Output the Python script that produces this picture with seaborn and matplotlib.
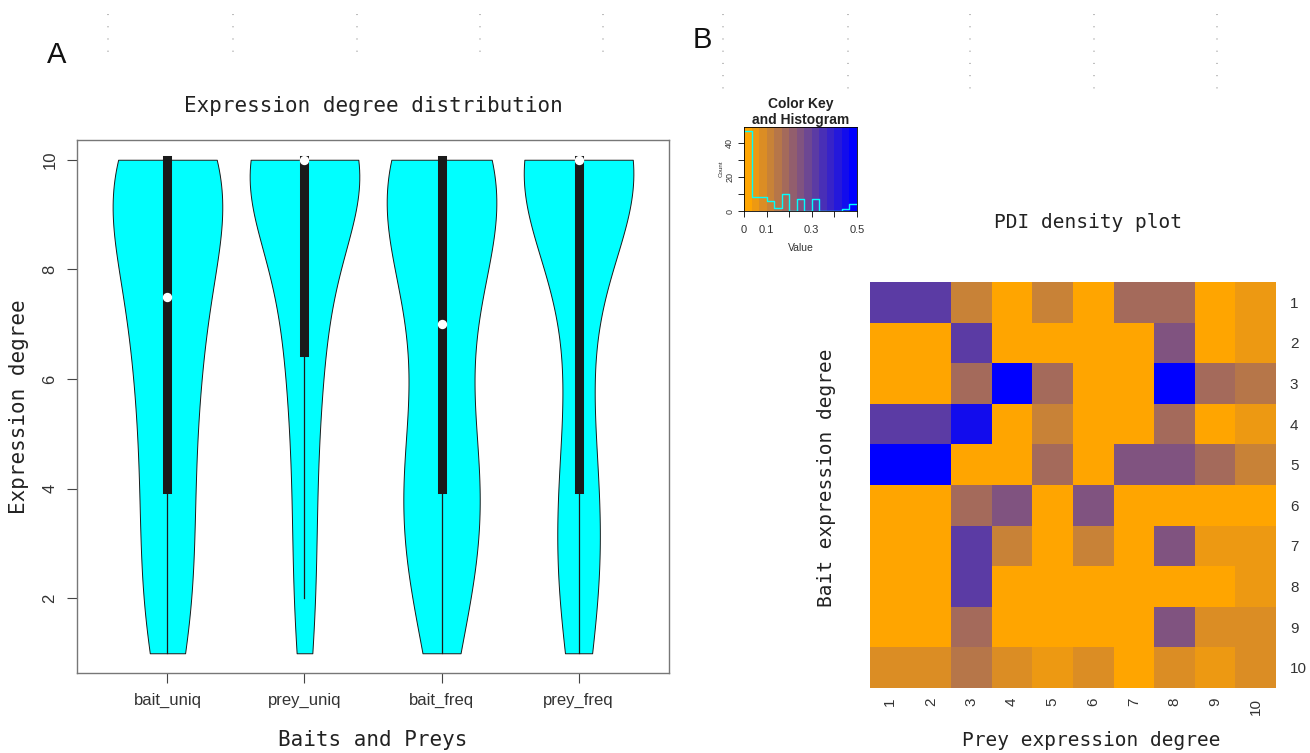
import numpy as np
import pandas as pd
import seaborn as sns
import matplotlib.pyplot as plt
from matplotlib.colors import LinearSegmentedColormap
from matplotlib.lines import Line2D

# %% data
# panel A: number of genes at each expression degree (1..10), per group
degrees = np.arange(1, 11)
groups = ["bait_uniq", "prey_uniq", "bait_freq", "prey_freq"]
bait_uniq_counts = [5, 5, 5, 5, 5, 6, 7, 8, 10, 20]
prey_uniq_counts = [2, 2, 2, 2, 2, 3, 4, 4, 4, 26]
bait_freq_counts = [3, 4, 6, 7, 5, 2, 4, 6, 8, 16]
prey_freq_counts = [3, 4, 5, 4, 3, 1, 2, 3, 5, 31]

# panel B: PDI density, rows = bait expression degree, cols = prey expression degree
bait_labels = [str(d) for d in degrees]
prey_labels = [str(d) for d in degrees]
pdi = [
    [0.32, 0.32, 0.12, 0.00, 0.12, 0.00, 0.18, 0.18, 0.00, 0.05],
    [0.00, 0.00, 0.32, 0.00, 0.00, 0.00, 0.00, 0.25, 0.00, 0.05],
    [0.00, 0.00, 0.18, 0.49, 0.18, 0.00, 0.00, 0.49, 0.18, 0.15],
    [0.32, 0.32, 0.45, 0.00, 0.12, 0.00, 0.00, 0.18, 0.00, 0.05],
    [0.49, 0.49, 0.00, 0.00, 0.18, 0.00, 0.25, 0.25, 0.18, 0.12],
    [0.00, 0.00, 0.18, 0.25, 0.00, 0.25, 0.00, 0.00, 0.00, 0.00],
    [0.00, 0.00, 0.32, 0.12, 0.00, 0.12, 0.00, 0.25, 0.05, 0.05],
    [0.00, 0.00, 0.32, 0.00, 0.00, 0.00, 0.00, 0.00, 0.00, 0.05],
    [0.00, 0.00, 0.18, 0.00, 0.00, 0.00, 0.00, 0.25, 0.08, 0.08],
    [0.08, 0.08, 0.15, 0.08, 0.05, 0.08, 0.00, 0.08, 0.05, 0.08],
]
key_breaks = np.linspace(0, 0.5, 16)

#%% long table for the violins
counts = dict(zip(groups, [bait_uniq_counts, prey_uniq_counts, bait_freq_counts, prey_freq_counts]))
vdf = pd.concat(
    [pd.DataFrame({"group": g, "degree": np.repeat(degrees, c)}) for g, c in counts.items()],
    ignore_index=True,
)
pdf = pd.DataFrame(pdi, index=bait_labels, columns=prey_labels)

#%% figure
MONO = "DejaVu Sans Mono"
SANS = "Liberation Sans"
plt.rcParams["font.family"] = SANS
W, H = 1310, 753
fig = plt.figure(figsize=(W / 100, H / 100), dpi=100)


def px_box(left, top, right, bottom):
    return [left / W, 1 - bottom / H, (right - left) / W, (bottom - top) / H]


# panel A: violins
axA = fig.add_axes(px_box(77, 140, 669, 673))
sns.violinplot(
    data=vdf,
    x="group",
    y="degree",
    order=groups,
    color="cyan",
    saturation=1,
    linecolor="#1a1a1a",
    linewidth=0.7,
    cut=0,
    bw_adjust=1.1,
    density_norm="width",
    width=0.8,
    inner="box",
    inner_kws=dict(box_width=6.5, whis_width=0.9, marker="o"),
    ax=axA,
)
axA.set_xlim(-0.66, 3.66)
axA.set_ylim(0.64, 10.36)
axA.set_yticks([2, 4, 6, 8, 10])
axA.set_yticklabels(["2", "4", "6", "8", "10"], rotation=90, va="center")
for s in axA.spines.values():
    s.set_color("#777777")
    s.set_linewidth(1.0)
axA.tick_params(length=7, width=0.8, color="#444444", labelsize=12, labelcolor="#333333", pad=7)
axA.set_xlabel("Baits and Preys", fontfamily=MONO, fontsize=15, color="#222222", labelpad=16)
axA.set_ylabel("Expression degree", fontfamily=MONO, fontsize=15, color="#222222", labelpad=10)
axA.set_title("Expression degree distribution", fontfamily=MONO, fontsize=15, color="#222222", pad=20)

# panel B: heatmap
key_cmap = LinearSegmentedColormap.from_list("orange_blue", ["orange", "blue"], N=15)
axB = fig.add_axes(px_box(870, 282, 1276, 688))
sns.heatmap(pdf, cmap=key_cmap, vmin=0, vmax=0.5, cbar=False, ax=axB)
axB.yaxis.tick_right()
axB.set_yticklabels(bait_labels, rotation=0, ha="left")
axB.set_xticklabels(prey_labels, rotation=90)
axB.tick_params(length=0, labelsize=11, labelcolor="#333333")
axB.tick_params(axis="y", pad=10)
axB.tick_params(axis="x", pad=7)
fig.text(1088 / W, 1 - 222 / H, "PDI density plot", fontfamily=MONO, fontsize=14,
         color="#222222", ha="center", va="center")
fig.text(1091 / W, 1 - 740 / H, "Prey expression degree", fontfamily=MONO, fontsize=14,
         color="#222222", ha="center", va="center")
fig.text(826 / W, 1 - 478 / H, "Bait expression degree", fontfamily=MONO, fontsize=14,
         color="#222222", ha="center", va="center", rotation=90)

# colour key with histogram
axK = fig.add_axes(px_box(744, 127, 857, 211))
axK.pcolormesh(key_breaks, [0, 49.5], ((key_breaks[:-1] + key_breaks[1:]) / 2).reshape(1, -1),
               cmap=key_cmap, vmin=0, vmax=0.5)
sns.histplot(x=np.ravel(pdi), bins=key_breaks, element="step", fill=False,
             color="cyan", linewidth=1.0, ax=axK)
axK.set_xlim(0, 0.5)
axK.set_ylim(0, 49.5)
axK.set_xticks([0, 0.1, 0.2, 0.3, 0.4, 0.5])
axK.set_xticklabels(["0", "0.1", "", "0.3", "", "0.5"])
axK.set_yticks([0, 10, 20, 30, 40])
axK.set_yticklabels(["0", "", "20", "", "40"], rotation=90, va="center")
axK.tick_params(length=4, width=0.6, labelsize=8, labelcolor="#333333", pad=6)
axK.tick_params(axis="y", labelsize=6.5, pad=3)
axK.set_xlabel("Value", fontsize=7.5, color="#333333", labelpad=6)
axK.set_ylabel("Count", fontsize=4.5, color="#333333", labelpad=1)
axK.set_title("Color Key\nand Histogram", fontsize=10, fontweight="bold",
              color="#222222", linespacing=1.15, pad=-2)
for s in axK.spines.values():
    s.set_linewidth(0.6)

# panel letters and the dotted guides at the top
fig.text(57 / W, 1 - 55 / H, "A", fontsize=21, ha="center", va="center", color="#111111")
fig.text(702 / W, 1 - 40 / H, "B", fontsize=21, ha="center", va="center", color="#111111")
for x, y0, y1 in [(108, 14, 54), (233, 14, 54), (357, 14, 54), (480, 14, 54), (603, 14, 54),
                  (723, 14, 92), (848, 14, 92), (970, 14, 92), (1094, 14, 92), (1217, 14, 92)]:
    fig.add_artist(Line2D([x / W, x / W], [1 - y0 / H, 1 - y1 / H], transform=fig.transFigure,
                          color="#aaaaaa", lw=1.1, linestyle=(0, (0.7, 7.3))))

fig.savefig("out.png", dpi=100)
